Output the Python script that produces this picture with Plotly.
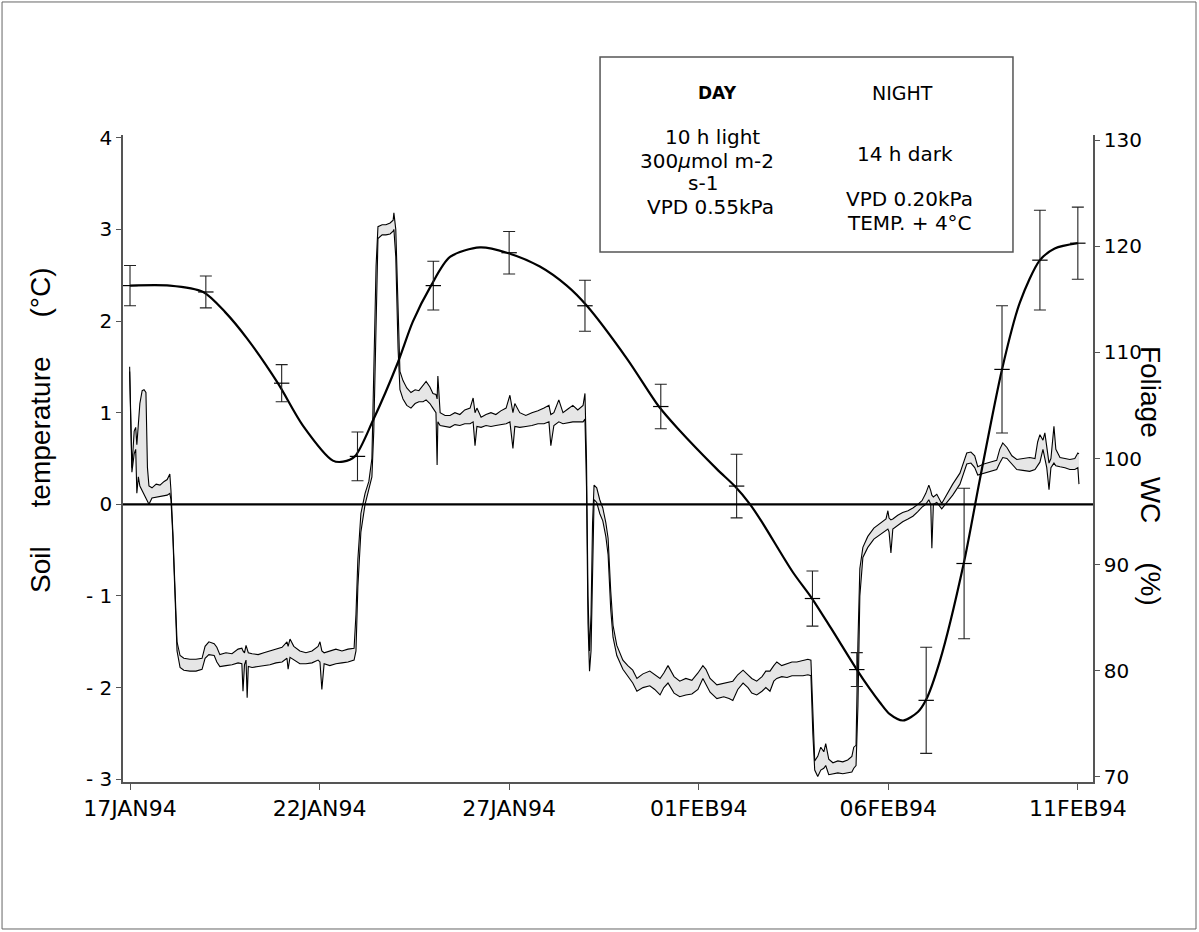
import plotly.graph_objects as go
import pandas as pd

# ---------------- data ----------------
start = pd.Timestamp("1994-01-17")

soil_day = [
    -0.01, 0.03, 0.05, 0.11, 0.15, 0.18, 0.22, 0.26, 0.32, 0.37,
    0.42, 0.46, 0.50, 0.58, 0.69, 0.79, 0.90, 0.98, 1.05, 1.08,
    1.13, 1.19, 1.24, 1.32, 1.42, 1.58, 1.74, 1.90, 1.98, 2.08,
    2.22, 2.29, 2.37, 2.53, 2.69, 2.85, 2.95, 2.98, 3.02, 3.06,
    3.09, 3.12, 3.22, 3.38, 3.53, 3.69, 3.85, 4.01, 4.14, 4.17,
    4.22, 4.32, 4.48, 4.64, 4.80, 4.96, 5.01, 5.06, 5.12, 5.27,
    5.43, 5.59, 5.75, 5.91, 5.96, 6.01, 6.09, 6.20, 6.30, 6.38,
    6.43, 6.49, 6.54, 6.65, 6.75, 6.86, 6.94, 6.96, 7.01, 7.07,
    7.12, 7.20, 7.30, 7.41, 7.52, 7.62, 7.73, 7.81, 7.91, 7.99,
    8.07, 8.10, 8.12, 8.18, 8.31, 8.44, 8.57, 8.70, 8.83, 8.97,
    9.05, 9.10, 9.15, 9.26, 9.39, 9.52, 9.65, 9.78, 9.92, 10.02,
    10.10, 10.15, 10.28, 10.44, 10.60, 10.76, 10.92, 11.05, 11.10, 11.18,
    11.31, 11.42, 11.55, 11.68, 11.81, 11.95, 12.00, 12.04, 12.08, 12.12,
    12.16, 12.20, 12.24, 12.31, 12.39, 12.47, 12.55, 12.61, 12.68, 12.74,
    12.84, 13.00, 13.13, 13.26, 13.37, 13.53, 13.71, 13.84, 13.98, 14.08,
    14.19, 14.35, 14.50, 14.66, 14.82, 14.98, 15.11, 15.19, 15.30, 15.48,
    15.66, 15.80, 15.90, 16.03, 16.17, 16.30, 16.40, 16.53, 16.67, 16.77,
    16.88, 16.98, 17.06, 17.19, 17.33, 17.46, 17.59, 17.75, 17.88, 17.96,
    18.01, 18.06, 18.14, 18.22, 18.30, 18.35, 18.43, 18.54, 18.67, 18.80,
    18.93, 19.04, 19.09, 19.15, 19.20, 19.25, 19.33, 19.46, 19.62, 19.78,
    19.94, 19.99, 20.02, 20.07, 20.12, 20.25, 20.38, 20.52, 20.65, 20.78,
    20.89, 20.99, 21.07, 21.12, 21.15, 21.19, 21.28, 21.41, 21.54, 21.70,
    21.89, 21.99, 22.07, 22.18, 22.28, 22.36, 22.52, 22.68, 22.86, 22.94,
    23.02, 23.13, 23.26, 23.39, 23.55, 23.73, 23.87, 23.94, 24.00, 24.08,
    24.13, 24.18, 24.24, 24.29, 24.37, 24.42, 24.53, 24.66, 24.79, 24.92,
    25.00, 25.03,
]

soil_upper = [
    1.50, 0.55, 0.40, 0.80, 0.84, 0.65, 0.85, 1.10, 1.24, 1.25,
    1.22, 0.40, 0.20, 0.18, 0.22, 0.21, 0.25, 0.27, 0.33, 0.15,
    -0.30, -1.00, -1.50, -1.65, -1.68, -1.69, -1.69, -1.68, -1.55, -1.50,
    -1.52, -1.56, -1.64, -1.62, -1.63, -1.58, -1.57, -1.60, -1.62, -1.54,
    -1.58, -1.62, -1.63, -1.64, -1.62, -1.60, -1.58, -1.56, -1.50, -1.55,
    -1.47, -1.55, -1.60, -1.62, -1.60, -1.55, -1.50, -1.60, -1.62, -1.60,
    -1.58, -1.60, -1.58, -1.57, -1.20, -0.60, -0.10, 0.12, 0.25, 0.50,
    1.50, 2.60, 3.03, 3.05, 3.05, 3.07, 3.10, 3.18, 3.00, 2.00,
    1.45, 1.35, 1.27, 1.22, 1.25, 1.24, 1.30, 1.34, 1.28, 1.21,
    1.20, 1.15, 1.40, 1.00, 0.97, 0.97, 1.00, 0.98, 1.03, 1.05,
    1.16, 1.00, 1.05, 0.95, 0.98, 1.00, 0.98, 1.02, 1.05, 1.19,
    1.00, 1.10, 1.00, 0.97, 1.00, 1.02, 1.05, 1.08, 0.98, 1.00,
    1.14, 1.00, 1.04, 1.08, 1.03, 1.08, 1.21, 0.50, -1.00, -1.60,
    -1.20, -0.20, 0.21, 0.18, 0.05, -0.04, -0.20, -0.37, -0.95, -1.32,
    -1.54, -1.70, -1.76, -1.81, -1.90, -1.85, -1.82, -1.86, -1.90, -1.84,
    -1.76, -1.88, -1.93, -1.90, -1.92, -1.84, -1.76, -1.80, -1.90, -1.97,
    -1.95, -1.94, -1.93, -1.86, -1.81, -1.86, -1.90, -1.93, -1.88, -1.82,
    -1.82, -1.76, -1.72, -1.76, -1.74, -1.72, -1.72, -1.70, -1.69, -1.70,
    -2.30, -2.80, -2.75, -2.65, -2.70, -2.61, -2.78, -2.82, -2.80, -2.81,
    -2.79, -2.75, -2.65, -2.63, -1.50, -0.70, -0.47, -0.35, -0.26, -0.21,
    -0.16, -0.07, -0.15, -0.17, -0.16, -0.12, -0.09, -0.07, -0.04, 0.00,
    0.04, 0.12, 0.21, 0.15, 0.10, 0.08, 0.11, 0.01, 0.11, 0.22,
    0.34, 0.45, 0.56, 0.57, 0.53, 0.41, 0.44, 0.46, 0.48, 0.60,
    0.67, 0.62, 0.53, 0.49, 0.50, 0.51, 0.50, 0.68, 0.76, 0.70,
    0.78, 0.60, 0.45, 0.50, 0.85, 0.60, 0.51, 0.50, 0.49, 0.50,
    0.56, 0.55,
]

soil_lower = [
    1.45, 0.40, 0.35, 0.55, 0.60, 0.12, 0.30, 0.20, 0.15, 0.12,
    0.08, 0.05, 0.00, 0.07, 0.08, 0.09, 0.10, 0.10, 0.12, 0.05,
    -0.35, -1.10, -1.60, -1.78, -1.81, -1.82, -1.82, -1.80, -1.68, -1.64,
    -1.65, -1.72, -1.77, -1.76, -1.75, -1.73, -1.74, -2.04, -1.75, -1.70,
    -2.11, -1.77, -1.78, -1.77, -1.76, -1.75, -1.73, -1.72, -1.68, -1.80,
    -1.67, -1.70, -1.74, -1.74, -1.73, -1.70, -1.72, -2.02, -1.74, -1.76,
    -1.74, -1.73, -1.72, -1.70, -1.60, -0.90, -0.30, 0.00, 0.15, 0.30,
    0.80, 2.00, 2.90, 2.94, 2.94, 2.95, 2.98, 3.00, 2.70, 1.70,
    1.25, 1.15, 1.08, 1.05, 1.10, 1.12, 1.12, 1.14, 1.10, 1.05,
    1.00, 0.43, 0.90, 0.86, 0.85, 0.84, 0.87, 0.86, 0.88, 0.88,
    0.90, 0.64, 0.85, 0.84, 0.86, 0.85, 0.86, 0.87, 0.88, 0.90,
    0.61, 0.85, 0.84, 0.85, 0.86, 0.88, 0.88, 0.90, 0.64, 0.86,
    0.90, 0.88, 0.89, 0.90, 0.90, 0.90, 0.93, 0.20, -1.30, -1.82,
    -1.60, -0.60, 0.05, 0.02, -0.10, -0.18, -0.35, -0.55, -1.15, -1.45,
    -1.65, -1.80, -1.88, -1.95, -2.04, -2.00, -1.98, -2.02, -2.08, -2.00,
    -1.95, -2.06, -2.10, -2.08, -2.07, -2.02, -1.90, -1.97, -2.05, -2.12,
    -2.10, -2.12, -2.14, -2.02, -1.95, -2.00, -2.06, -2.08, -2.04, -2.00,
    -2.04, -1.93, -1.90, -1.88, -1.89, -1.87, -1.87, -1.87, -1.86, -1.87,
    -2.50, -2.90, -2.97, -2.90, -2.88, -2.85, -2.95, -2.94, -2.93, -2.94,
    -2.93, -2.92, -2.88, -2.85, -2.20, -1.00, -0.58, -0.47, -0.38, -0.33,
    -0.28, -0.27, -0.30, -0.53, -0.27, -0.23, -0.19, -0.16, -0.13, -0.08,
    -0.03, 0.00, 0.05, 0.00, -0.48, 0.00, 0.02, -0.05, 0.02, 0.10,
    0.22, 0.35, 0.44, 0.45, 0.40, 0.32, 0.34, 0.36, 0.38, 0.45,
    0.51, 0.50, 0.44, 0.38, 0.37, 0.36, 0.38, 0.42, 0.46, 0.60,
    0.50, 0.40, 0.16, 0.40, 0.45, 0.42, 0.41, 0.40, 0.38, 0.38,
    0.40, 0.22,
]

wc_curve_day = [
    0.00, 1.05, 1.93, 2.51, 3.09, 3.90, 4.56, 5.35, 5.62, 5.93,
    6.41, 7.07, 7.46, 7.94, 8.44, 9.23, 9.94, 10.81, 11.52, 12.05,
    13.11, 13.95, 14.43, 15.48, 15.95, 16.35, 16.67, 17.48, 17.99, 18.49,
    19.17, 19.51, 19.78, 20.04, 20.39, 20.78, 20.99, 21.36, 21.99, 22.42,
    23.00, 23.47, 24.00, 24.39, 25.00,
]
wc_curve = [
    116.3, 116.3, 115.7, 113.8, 111.3, 107.1, 103.1, 99.8, 99.7, 100.2,
    103.6, 109.1, 112.9, 116.3, 119.0, 119.9, 119.4, 118.1, 116.3, 114.4,
    109.4, 104.9, 102.9, 99.0, 97.4, 95.7, 94.0, 89.3, 86.8, 84.0,
    80.1, 78.3, 77.0, 75.9, 75.3, 76.1, 77.2, 80.9, 90.1, 98.1,
    108.4, 114.7, 118.7, 119.8, 120.3,
]

wc_obs_day = [0, 2, 4, 6, 8, 10, 12, 14, 16, 18, 19.17, 21, 22, 23, 24, 25]
wc_obs = [116.3, 115.7, 107.1, 100.2, 116.3, 119.4, 114.4, 104.9, 97.4, 86.8,
          80.1, 77.2, 90.1, 108.4, 118.7, 120.3]
wc_err = [1.9, 1.5, 1.75, 2.3, 2.3, 2.0, 2.4, 2.1, 3.0, 2.6,
          1.6, 5.0, 7.1, 6.0, 4.7, 3.4]

x_tick_days = [0, 5, 10, 15, 20, 25]
x_tick_labels = ["17JAN94", "22JAN94", "27JAN94", "01FEB94", "06FEB94", "11FEB94"]
temp_ticks = [-3, -2, -1, 0, 1, 2, 3, 4]
temp_tick_labels = ["- 3", "- 2", "- 1", "0", "1", "2", "3", "4"]
wc_ticks = [70, 80, 90, 100, 110, 120, 130]

day_lines = ["10 h light", "300<i>\u03bc</i>mol m-2", "s-1", "VPD 0.55kPa"]
night_lines = ["14 h dark", "VPD 0.20kPa", "TEMP. + 4\u00b0C"]


def to_dates(days):
    return [(start + pd.Timedelta(days=d)).strftime("%Y-%m-%d %H:%M:%S") for d in days]


# ---------------- figure ----------------
fig = go.Figure()

fig.add_trace(go.Scatter(
    x=to_dates(soil_day), y=soil_upper, mode="lines",
    line=dict(color="black", width=1.1), hoverinfo="skip", yaxis="y",
))
fig.add_trace(go.Scatter(
    x=to_dates(soil_day), y=soil_lower, mode="lines",
    line=dict(color="black", width=1.1), fill="tonexty", fillcolor="#e6e6e6",
    hoverinfo="skip", yaxis="y",
))

fig.add_trace(go.Scatter(
    x=to_dates(wc_curve_day), y=wc_curve, mode="lines",
    line=dict(color="black", width=2.2, shape="spline", smoothing=0.8),
    yaxis="y2",
))

fig.add_trace(go.Scatter(
    x=to_dates(wc_obs_day), y=wc_obs, mode="markers",
    marker=dict(symbol="line-ew", size=11, color="black",
                line=dict(color="black", width=1.2)),
    error_y=dict(type="data", array=wc_err, visible=True,
                 color="#222", thickness=1.1, width=6),
    yaxis="y2",
))

x_lo = (start + pd.Timedelta(days=-0.185)).strftime("%Y-%m-%d %H:%M:%S")
x_hi = (start + pd.Timedelta(days=25.4)).strftime("%Y-%m-%d %H:%M:%S")

axis_col = "#555555"
tick_font = dict(family="DejaVu Sans", size=20, color="black")

fig.update_layout(
    width=1199, height=932,
    margin=dict(l=123, r=106, t=135, b=150, pad=0),
    paper_bgcolor="white", plot_bgcolor="white",
    showlegend=False,
    xaxis=dict(
        type="date", range=[x_lo, x_hi],
        tickvals=to_dates(x_tick_days), ticktext=x_tick_labels,
        ticks="outside", ticklen=6, tickcolor=axis_col, tickwidth=1.2,
        showline=True, linecolor=axis_col, linewidth=1.5,
        showgrid=False, zeroline=False,
        tickfont=dict(family="DejaVu Sans", size=22, color="black"),
    ),
    yaxis=dict(
        range=[-3.03, 4.03], tickvals=temp_ticks, ticktext=temp_tick_labels,
        ticks="outside", ticklen=5, tickcolor=axis_col, tickwidth=1.2,
        showline=True, linecolor=axis_col, linewidth=1.5,
        showgrid=False, zeroline=False, tickfont=tick_font,
    ),
    yaxis2=dict(
        range=[69.5, 130.5], tickvals=wc_ticks, overlaying="y", side="right",
        ticks="outside", ticklen=5, tickcolor=axis_col, tickwidth=1.2,
        showline=True, linecolor=axis_col, linewidth=1.5,
        showgrid=False, zeroline=False, tickfont=tick_font,
    ),
)

# zero line
fig.add_shape(type="line", xref="paper", x0=0, x1=1, yref="y", y0=0, y1=0,
              line=dict(color="black", width=2.2))
# info box
fig.add_shape(type="rect", xref="paper", yref="paper",
              x0=0.4918, x1=0.9175, y0=0.8192, y1=1.1206,
              line=dict(color="#555555", width=1.5), fillcolor="white", layer="below")
# outer frame
fig.add_shape(type="rect", xref="paper", yref="paper",
              x0=-0.1247, x1=1.1062, y0=-0.2272, y1=1.2056,
              line=dict(color="#666666", width=1))

box_font = dict(family="DejaVu Sans", size=20, color="black")


def box_text(txt, px, py, font):
    fig.add_annotation(text=txt, x=px, y=py, xref="paper", yref="paper",
                       xanchor="center", yanchor="middle", align="center",
                       showarrow=False, font=font)


box_text("<b>DAY</b>", 0.6124, 1.0649, dict(family="DejaVu Sans", size=17, color="black"))
box_text("NIGHT", 0.8041, 1.0649, dict(family="DejaVu Sans", size=19, color="black"))
day_pos = [(0.6082, 0.9969), (0.6021, 0.9598), (0.5979, 0.9258), (0.6052, 0.8887)]
for txt, (px, py) in zip(day_lines, day_pos):
    box_text(txt, px, py, box_font)
night_pos = [(0.8062, 0.9706), (0.8113, 0.9011), (0.8113, 0.8640)]
for txt, (px, py) in zip(night_lines, night_pos):
    box_text(txt, px, py, box_font)

title_font = dict(family="Liberation Sans, Arial", size=28, color="black")
sp = "\u00a0" * 5
fig.add_annotation(text="Soil" + sp + "temperature" + sp + "(\u00b0C)",
                   xref="paper", yref="paper", x=-0.0856, y=0.544,
                   textangle=-90, showarrow=False, font=title_font,
                   xanchor="center", yanchor="middle")
fig.add_annotation(text="Foliage" + sp + "WC" + sp + "(%)",
                   xref="paper", yref="paper", x=1.0588, y=0.473,
                   textangle=90, showarrow=False, font=title_font,
                   xanchor="center", yanchor="middle")

fig.write_html("out.html",
               config={"displayModeBar": False},
               post_script="document.body.style.margin='0px';"
                           "document.body.style.overflow='hidden';")
